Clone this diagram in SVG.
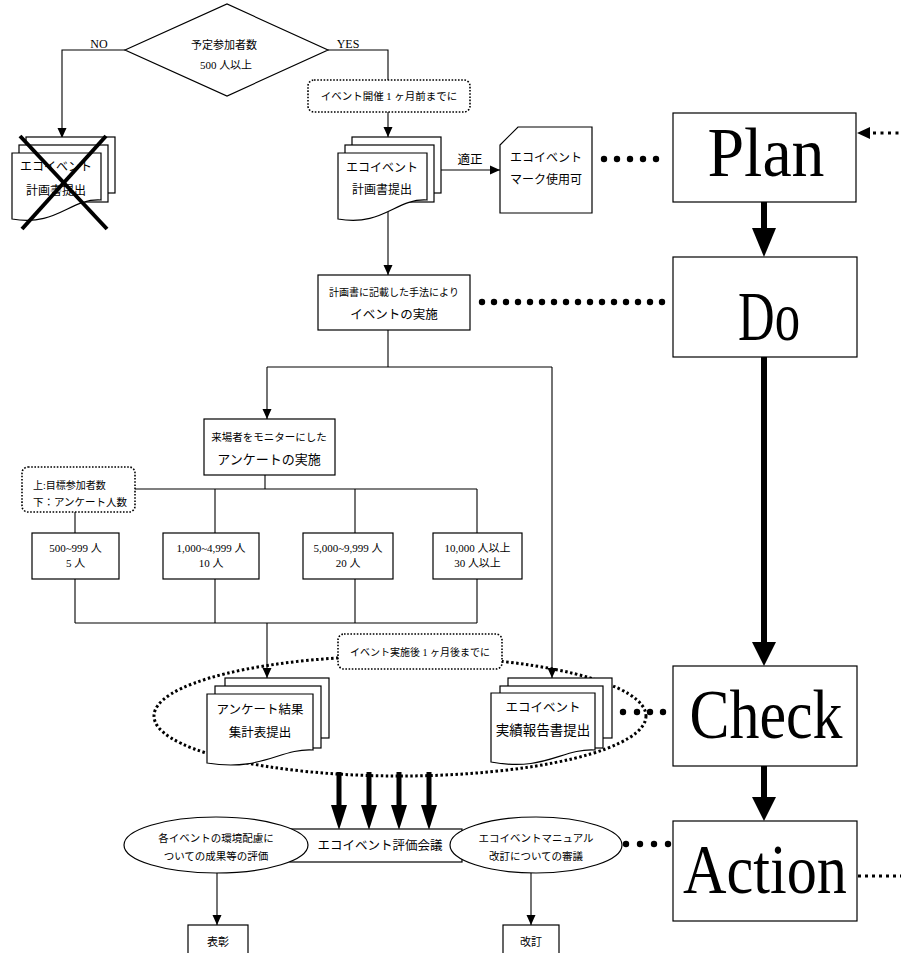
<svg xmlns="http://www.w3.org/2000/svg" width="901" height="953" viewBox="0 0 901 953">
<style>
.ln{stroke:#000;stroke-width:1.1;fill:none}
.bx{fill:#fff;stroke:#000;stroke-width:1.2}
.nt{fill:#fff;stroke:#000;stroke-width:1.6;stroke-dasharray:1.6 1.6}
.thk{stroke:#000;stroke-width:5;fill:none}
.t{font-family:"Liberation Serif","Noto Sans CJK JP",serif;fill:#000;text-anchor:middle}
.big{font-family:"Liberation Serif",serif;fill:#000;text-anchor:middle;font-size:70px}
.dot{fill:#000}
</style>
<defs>
<marker id="a" markerWidth="10" markerHeight="10" refX="10" refY="5" orient="auto" markerUnits="userSpaceOnUse"><path d="M0,0.5 L10,5 L0,9.5 z" fill="#000"/></marker>
</defs>
<rect width="901" height="953" fill="#fff"/>

<g id="connectors">
<polyline class="ln" points="125,50 62,50 62,138" marker-end="url(#a)"/>
<polyline class="ln" points="328,50 388,50 388,80"/>
<line class="ln" x1="388" y1="112" x2="388" y2="137" marker-end="url(#a)"/>
<line class="ln" x1="441" y1="170" x2="500" y2="170" marker-end="url(#a)"/>
<line class="ln" x1="388" y1="205" x2="388" y2="275" marker-end="url(#a)"/>
<line class="ln" x1="388" y1="330" x2="388" y2="367"/>
<line class="ln" x1="267" y1="367" x2="552" y2="367"/>
<line class="ln" x1="267" y1="367" x2="267" y2="419" marker-end="url(#a)"/>
<line class="ln" x1="552" y1="367" x2="552" y2="678" marker-end="url(#a)"/>
<line class="ln" x1="265" y1="475" x2="265" y2="489"/>
<line class="ln" x1="135" y1="489" x2="477" y2="489"/>
<line class="ln" x1="215" y1="489" x2="215" y2="533"/>
<line class="ln" x1="355" y1="489" x2="355" y2="533"/>
<line class="ln" x1="477" y1="489" x2="477" y2="533"/>
<line class="ln" x1="75" y1="512" x2="75" y2="533"/>
<line class="ln" x1="75" y1="579" x2="75" y2="623"/>
<line class="ln" x1="215" y1="579" x2="215" y2="623"/>
<line class="ln" x1="355" y1="579" x2="355" y2="623"/>
<line class="ln" x1="477" y1="579" x2="477" y2="623"/>
<line class="ln" x1="75" y1="623" x2="477" y2="623"/>
<line class="ln" x1="267" y1="623" x2="267" y2="678" marker-end="url(#a)"/>
<line class="ln" x1="217" y1="873" x2="217" y2="925" marker-end="url(#a)"/>
<line class="ln" x1="531" y1="873" x2="531" y2="925" marker-end="url(#a)"/>
<!-- PDCA thick arrows -->
<line class="thk" x1="764" y1="202" x2="764" y2="230" style="stroke-width:6"/>
<polygon points="752,228 776,228 764,257" fill="#000"/>
<line class="thk" x1="764" y1="357" x2="764" y2="645" style="stroke-width:6"/>
<polygon points="752,642 776,642 764,666" fill="#000"/>
<line class="thk" x1="764" y1="766" x2="764" y2="800" style="stroke-width:6"/>
<polygon points="752,797 776,797 764,821" fill="#000"/>
<!-- dotted links -->
<polygon points="857,133 870,127 870,139" fill="#000"/>
<line x1="873" y1="133" x2="901" y2="133" stroke="#000" stroke-width="3" stroke-dasharray="3 4.5"/>
<line x1="858" y1="876" x2="901" y2="876" stroke="#000" stroke-width="3" stroke-dasharray="3 4"/>
<g class="dot">
<circle cx="604" cy="159" r="3.2"/><circle cx="617" cy="159" r="3.2"/><circle cx="630" cy="159" r="3.2"/><circle cx="643" cy="159" r="3.2"/><circle cx="656" cy="159" r="3.2"/>
<circle cx="482" cy="302" r="3.2"/><circle cx="494" cy="302" r="3.2"/><circle cx="506" cy="302" r="3.2"/><circle cx="518" cy="302" r="3.2"/><circle cx="530" cy="302" r="3.2"/><circle cx="542" cy="302" r="3.2"/><circle cx="554" cy="302" r="3.2"/><circle cx="566" cy="302" r="3.2"/><circle cx="578" cy="302" r="3.2"/><circle cx="590" cy="302" r="3.2"/><circle cx="602" cy="302" r="3.2"/><circle cx="614" cy="302" r="3.2"/><circle cx="626" cy="302" r="3.2"/><circle cx="638" cy="302" r="3.2"/><circle cx="650" cy="302" r="3.2"/><circle cx="662" cy="302" r="3.2"/>
<circle cx="623" cy="712" r="3.2"/><circle cx="637" cy="712" r="3.2"/><circle cx="650" cy="712" r="3.2"/><circle cx="663" cy="712" r="3.2"/>
<circle cx="626" cy="844" r="3.2"/><circle cx="640" cy="844" r="3.2"/><circle cx="654" cy="844" r="3.2"/><circle cx="668" cy="844" r="3.2"/>
</g>
<!-- big dotted ellipse -->
<ellipse cx="400" cy="716" rx="246" ry="60" fill="none" stroke="#000" stroke-width="3" stroke-dasharray="2.5 2.5"/>
<!-- four thick arrows -->
<g fill="#000">
<line class="thk" x1="339" y1="772" x2="339" y2="808"/><polygon points="331,805 347,805 339,830"/>
<line class="thk" x1="369" y1="772" x2="369" y2="808"/><polygon points="361,805 377,805 369,830"/>
<line class="thk" x1="399" y1="772" x2="399" y2="808"/><polygon points="391,805 407,805 399,830"/>
<line class="thk" x1="429" y1="772" x2="429" y2="808"/><polygon points="421,805 437,805 429,830"/>
</g>
</g>

<g id="decision">
<polygon class="bx" points="125,50 227,4 328,50 227,96"/>
<text class="t" x="224" y="49" font-size="11">予定参加者数</text>
<text class="t" x="226" y="69" font-size="11">500 人以上</text>
<text class="t" x="99" y="48" font-size="12">NO</text>
<text class="t" x="348" y="48" font-size="12">YES</text>
</g>

<g id="doc-rejected">
<rect class="bx" x="26" y="137" width="89" height="56"/>
<rect class="bx" x="19" y="145" width="89" height="57"/>
<path class="bx" d="M12,153 H101 V200 C70,198 57,227 12,219 Z"/>
<text class="t" x="56" y="171" font-size="12">エコイベント</text>
<text class="t" x="56" y="195" font-size="12">計画書提出</text>
<line x1="20" y1="136" x2="107" y2="229" stroke="#000" stroke-width="4"/>
<line x1="106" y1="136" x2="22" y2="229" stroke="#000" stroke-width="4"/>
</g>

<g id="note-before">
<rect class="nt" x="308" y="80" width="162" height="32" rx="6"/>
<text class="t" x="389" y="100" font-size="10.5">イベント開催 1 ヶ月前までに</text>
</g>

<g id="doc-plan">
<rect class="bx" x="352" y="137" width="89" height="56"/>
<rect class="bx" x="345" y="145" width="89" height="57"/>
<path class="bx" d="M338,153 H427 V200 C396,198 383,227 338,219 Z"/>
<text class="t" x="382" y="172" font-size="12">エコイベント</text>
<text class="t" x="382" y="194" font-size="12">計画書提出</text>
<text class="t" x="470" y="164" font-size="12.5">適正</text>
</g>

<g id="mark">
<path class="bx" d="M518,127 H592 V213 H500 V145 Z"/>
<text class="t" x="546" y="162" font-size="12">エコイベント</text>
<text class="t" x="546" y="184" font-size="12">マーク使用可</text>
</g>

<g id="implement">
<rect class="bx" x="318" y="275" width="152" height="55"/>
<text class="t" x="394" y="296" font-size="10">計画書に記載した手法により</text>
<text class="t" x="394" y="319" font-size="12.5">イベントの実施</text>
</g>

<g id="survey">
<rect class="bx" x="204" y="419" width="131" height="56"/>
<text class="t" x="269" y="441" font-size="10.5">来場者をモニターにした</text>
<text class="t" x="269" y="464" font-size="13">アンケートの実施</text>
</g>

<g id="note-legend">
<rect class="nt" x="22" y="467" width="113" height="45" rx="6"/>
<text class="t" x="33" y="489" font-size="10" style="text-anchor:start">上:目標参加者数</text>
<text class="t" x="33" y="506" font-size="10.5" style="text-anchor:start">下：アンケート人数</text>
</g>

<g id="range1">
<rect class="bx" x="32" y="533" width="87" height="46"/>
<text class="t" x="75.5" y="552" font-size="11">500~999 人</text>
<text class="t" x="75.5" y="567" font-size="11">5 人</text>
</g>
<g id="range2">
<rect class="bx" x="163" y="533" width="96" height="46"/>
<text class="t" x="211" y="552" font-size="11">1,000~4,999 人</text>
<text class="t" x="211" y="567" font-size="11">10 人</text>
</g>
<g id="range3">
<rect class="bx" x="303" y="533" width="90" height="46"/>
<text class="t" x="348" y="552" font-size="11">5,000~9,999 人</text>
<text class="t" x="348" y="567" font-size="11">20 人</text>
</g>
<g id="range4">
<rect class="bx" x="433" y="533" width="89" height="46"/>
<text class="t" x="477.5" y="552" font-size="11">10,000 人以上</text>
<text class="t" x="477.5" y="567" font-size="11">30 人以上</text>
</g>

<g id="note-after">
<rect class="nt" x="338" y="634" width="164" height="35" rx="6"/>
<text class="t" x="420" y="656" font-size="10">イベント実施後 1 ヶ月後までに</text>
</g>

<g id="doc-survey">
<rect class="bx" x="225" y="678" width="104" height="60"/>
<rect class="bx" x="215" y="686" width="106" height="62"/>
<path class="bx" d="M207,694 H313 V750 C280,748 262,772 207,763 Z"/>
<text class="t" x="260" y="714" font-size="12.5">アンケート結果</text>
<text class="t" x="260" y="737" font-size="12.5">集計表提出</text>
</g>

<g id="doc-report">
<rect class="bx" x="508" y="678" width="104" height="60"/>
<rect class="bx" x="500" y="686" width="103" height="62"/>
<path class="bx" d="M491,693 H595 V750 C562,748 545,772 491,762 Z"/>
<text class="t" x="543" y="712" font-size="12.5">エコイベント</text>
<text class="t" x="543" y="735" font-size="13.5">実績報告書提出</text>
</g>

<g id="meeting">
<rect class="bx" x="290" y="829" width="172" height="33"/>
<text class="t" x="380" y="850" font-size="12.5">エコイベント評価会議</text>
</g>
<g id="eval">
<ellipse class="bx" cx="216" cy="845" rx="92" ry="28"/>
<text class="t" x="216" y="842" font-size="10.5">各イベントの環境配慮に</text>
<text class="t" x="216" y="860" font-size="10.5">ついての成果等の評価</text>
</g>
<g id="review">
<ellipse class="bx" cx="536" cy="845" rx="86" ry="28"/>
<text class="t" x="536" y="842" font-size="10.5">エコイベントマニュアル</text>
<text class="t" x="536" y="860" font-size="10.5">改訂についての審議</text>
</g>
<g id="award">
<rect class="bx" x="188" y="925" width="60" height="40"/>
<text class="t" x="218" y="946" font-size="11">表彰</text>
</g>
<g id="revise">
<rect class="bx" x="503" y="925" width="56" height="40"/>
<text class="t" x="531" y="946" font-size="11">改訂</text>
</g>

<g id="plan">
<rect class="bx" x="673" y="113" width="183" height="89"/>
<text class="big" x="766" y="176" textLength="117" lengthAdjust="spacingAndGlyphs">Plan</text>
</g>
<g id="do">
<rect class="bx" x="673" y="257" width="184" height="100"/>
<text class="big" x="769" y="340" textLength="62" lengthAdjust="spacingAndGlyphs">Do</text>
</g>
<g id="check">
<rect class="bx" x="673" y="666" width="184" height="100"/>
<text class="big" x="766" y="738" textLength="153" lengthAdjust="spacingAndGlyphs">Check</text>
</g>
<g id="action">
<rect class="bx" x="673" y="821" width="184" height="100"/>
<text class="big" x="765" y="893" textLength="164" lengthAdjust="spacingAndGlyphs">Action</text>
</g>
</svg>
